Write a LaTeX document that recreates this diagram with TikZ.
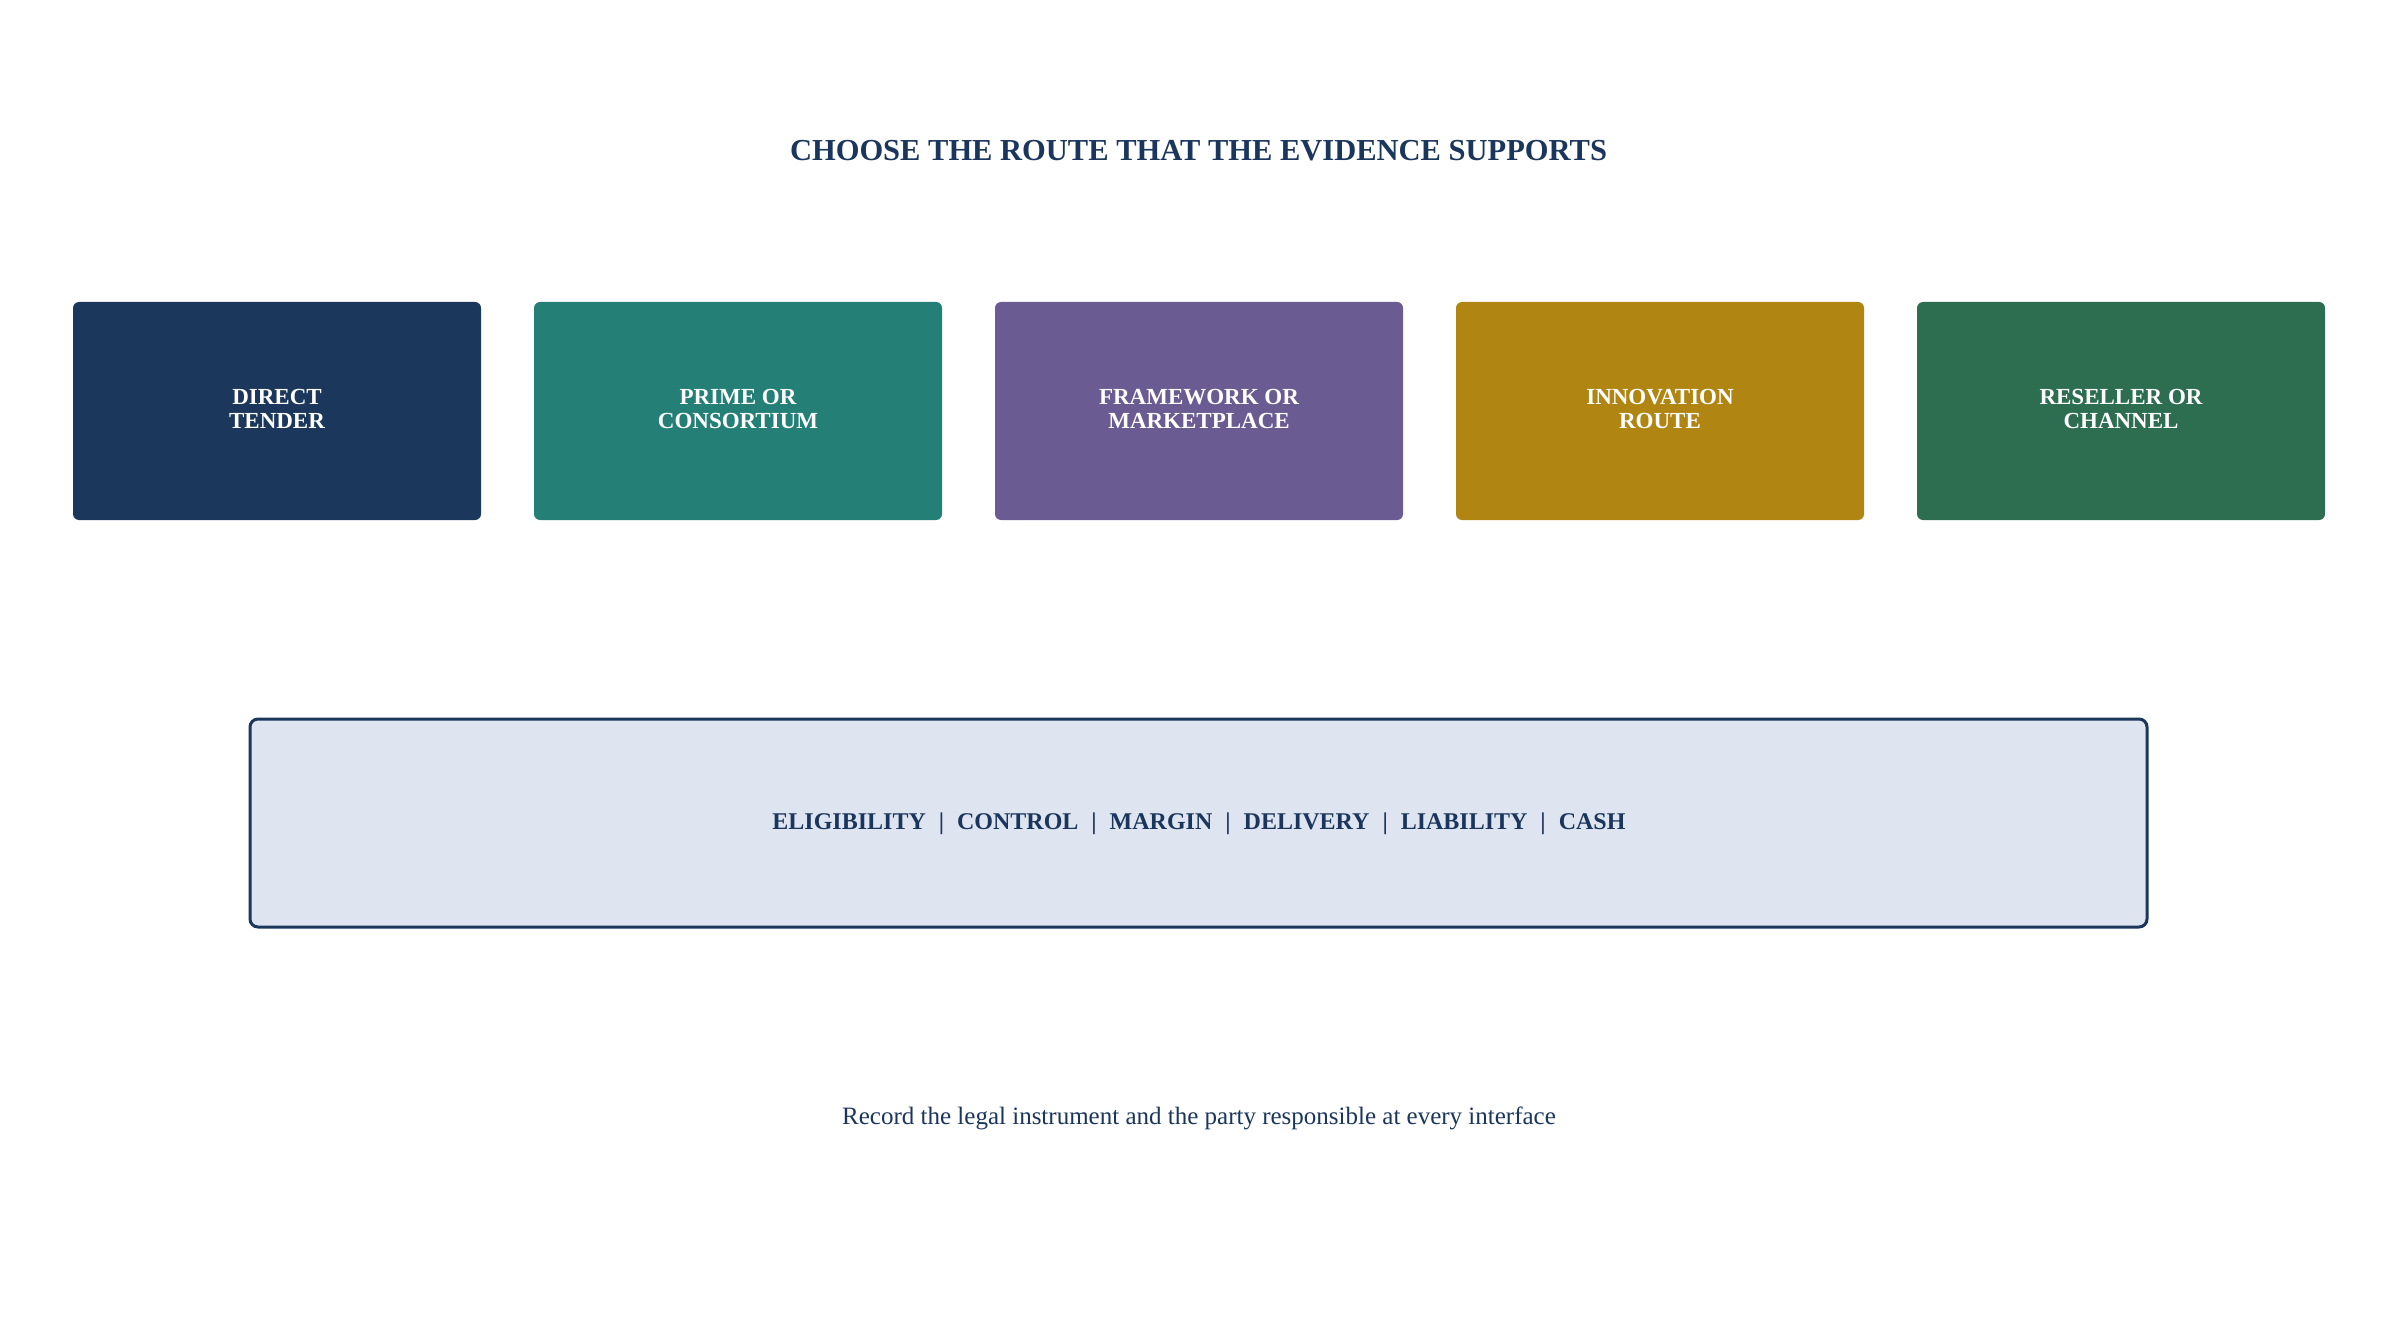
\documentclass[tikz,border=0pt]{standalone}
\usepackage{fontspec}
\setmainfont{Liberation Serif}
\definecolor{navy}{HTML}{1B375B}
\definecolor{tealc}{HTML}{247F77}
\definecolor{purplec}{HTML}{6B5B93}
\definecolor{goldc}{HTML}{B08511}
\definecolor{greenc}{HTML}{2D6E50}
\definecolor{barfill}{HTML}{DEE5F0}
\definecolor{inkc}{HTML}{1B365D}
\begin{document}
\begin{tikzpicture}[x=0.5pt,y=-0.5pt,
  routebox/.style={rectangle, rounded corners=3pt, minimum width=204pt, minimum height=109pt,
    inner sep=0pt, text=white, align=center,
    font=\fontsize{11.5pt}{11.65pt}\selectfont\bfseries},
  criteria/.style={rectangle, rounded corners=4pt, draw=navy, line width=1.5pt, fill=barfill,
    minimum width=948.5pt, minimum height=104pt, inner sep=0pt},
  titletext/.style={text=inkc, font=\fontsize{15.25pt}{18pt}\selectfont\bfseries, inner sep=0pt},
  bartext/.style={text=inkc, font=\fontsize{12pt}{14pt}\selectfont\bfseries, inner sep=0pt},
  foottext/.style={text=inkc, font=\fontsize{12.5pt}{15pt}\selectfont, inner sep=0pt}
]
\path[use as bounding box, fill=white] (0,0) rectangle (2397,1342);

\node[titletext, anchor=base] (title) at (1198.5,161) {CHOOSE THE ROUTE THAT THE EVIDENCE SUPPORTS};

\node[routebox, fill=navy]    (r1) at (277,411)  {};
\node[routebox, fill=tealc]   (r2) at (738,411)  {};
\node[routebox, fill=purplec] (r3) at (1199,411) {};
\node[routebox, fill=goldc]   (r4) at (1660,411) {};
\node[routebox, fill=greenc]  (r5) at (2121,411) {};
\node[routebox, minimum size=0pt] (t1) at ([yshift=1pt]r1.center) {DIRECT\\TENDER};
\node[routebox, minimum size=0pt] (t2) at ([yshift=1pt]r2.center) {PRIME OR\\CONSORTIUM};
\node[routebox, minimum size=0pt] (t3) at ([yshift=1pt]r3.center) {FRAMEWORK OR\\MARKETPLACE};
\node[routebox, minimum size=0pt] (t4) at ([yshift=1pt]r4.center) {INNOVATION\\ROUTE};
\node[routebox, minimum size=0pt] (t5) at ([yshift=1pt]r5.center) {RESELLER OR\\CHANNEL};

\node[criteria] (bar) at (1198.5,823) {};
\newcommand{\sepbar}{\hspace{6.5pt}|\hspace{6.5pt}}
\node[bartext, anchor=base] (bartxt) at (1199,829.5)
  {ELIGIBILITY\sepbar CONTROL\sepbar MARGIN\sepbar DELIVERY\sepbar LIABILITY\sepbar CASH};

\node[foottext, anchor=base] (foot) at (1199,1124)
  {Record the legal instrument and the party responsible at every interface};
\end{tikzpicture}
\end{document}
